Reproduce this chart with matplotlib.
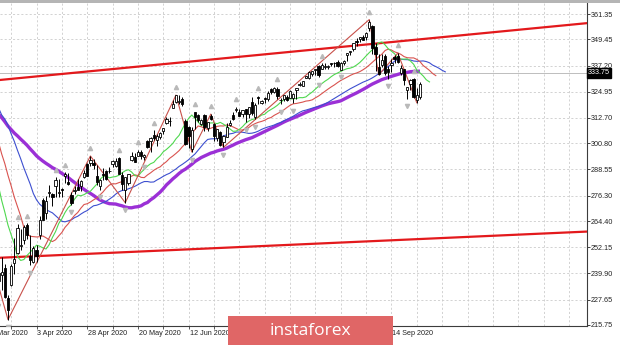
import numpy as np
import pandas as pd
import matplotlib.pyplot as plt
from matplotlib.patches import Rectangle
from matplotlib.transforms import offset_copy

plt.rcParams['font.family'] = 'Liberation Sans'

# trading calendar (daily bars, no gaps)
holidays = ['2020-01-20', '2020-02-17', '2020-04-10', '2020-05-25', '2020-07-03', '2020-09-07']
dates = pd.bdate_range('2020-01-02', '2020-09-25')
dates = dates[~dates.isin(pd.to_datetime(holidays))]

# closes before the visible window (needed to warm up the averages)
history_close = [
    324.87, 322.41, 323.64, 322.73, 324.45, 326.65, 325.71, 327.95, 327.45, 328.19, 330.92,
    331.95, 331.30, 331.34, 331.72, 328.77, 323.50, 326.89, 326.62, 327.68, 321.73,
    324.12, 329.06, 332.86, 333.98, 332.20, 334.68, 335.26, 337.42, 337.06, 337.60,
    336.73, 338.34, 336.95, 333.48, 322.42, 312.65, 311.50, 297.51, 296.26,
    309.09, 300.24, 312.86, 302.46, 297.46, 274.23, 288.42, 274.36,
]

# visible bars, 12 Mar 2020 .. 25 Sep 2020
open_ = [
    255.94, 263.09, 241.18, 245.04, 236.25, 239.25, 242.53, 228.19, 234.42, 244.87, 249.52, 252.75, 255.70, 262.40,
    247.98, 245.19, 250.76, 257.84, 274.21, 267.96, 277.58, 277.14, 280.98, 277.57, 279.15, 285.38, 282.61, 276.73,
    278.35, 280.49, 280.73, 285.12, 291.02, 291.53, 291.71,
    285.31, 280.74, 286.64, 288.04, 287.75, 291.09, 290.34, 293.79, 286.06, 278.95, 282.37, 293.05, 294.35, 295.06,
    296.79, 294.57, 301.93, 302.12, 304.65, 302.46,
    303.62, 306.55, 310.24, 311.11, 317.23, 320.22, 320.30, 321.42, 311.46, 308.24, 298.02, 315.48, 314.07, 310.01,
    314.17, 307.99, 313.49, 309.84, 303.47, 306.16, 301.41, 303.99,
    309.57, 314.24, 316.37, 315.38, 314.61, 316.84, 314.31, 320.13, 313.30, 322.41, 319.79, 321.88, 321.43, 326.45,
    324.62, 326.47, 320.95, 321.63, 322.43, 322.12, 321.90, 325.90,
    328.32, 327.86, 331.47, 331.48, 333.28, 335.06, 336.85, 335.44, 336.76, 336.41, 337.94, 338.34, 339.05, 335.36,
    338.51, 342.12, 343.53, 344.76, 348.51, 349.44, 350.35,
    350.35, 354.67, 355.87, 346.13, 336.71, 337.55, 341.82, 335.82, 337.49, 341.12, 341.51, 333.56, 335.37, 325.70,
    328.57, 330.90, 321.22, 322.58,
]
high = [
    266.66, 269.98, 256.90, 256.17, 248.37, 247.38, 244.47, 229.68, 244.10, 256.35, 262.80, 260.81, 262.43, 263.33,
    257.66, 252.68, 253.32, 267.00, 275.03, 276.00, 281.20, 277.51, 284.90, 283.94, 280.03, 287.30, 286.79, 278.04,
    281.00, 283.94, 283.70, 288.27, 291.40, 294.88, 293.32,
    290.66, 283.90, 289.25, 288.46, 289.78, 292.95, 294.00, 294.24, 287.19, 285.11, 286.33, 296.75, 296.21, 297.87,
    297.67, 295.63, 302.19, 303.57, 306.84, 305.17,
    306.21, 308.13, 313.22, 313.00, 321.27, 323.41, 323.28, 322.39, 312.15, 309.08, 308.28, 315.64, 314.39, 312.30,
    314.38, 310.65, 314.50, 310.51, 307.64, 306.39, 304.61, 310.20,
    311.89, 315.70, 317.88, 317.10, 316.50, 317.10, 317.88, 322.71, 319.76, 323.04, 321.28, 322.57, 325.13, 326.93,
    327.20, 327.23, 321.99, 323.41, 323.64, 325.73, 324.41, 326.63,
    329.62, 330.06, 332.39, 334.46, 334.88, 335.77, 337.54, 338.28, 338.25, 337.42, 338.34, 339.10, 339.61, 338.80,
    339.72, 343.00, 344.21, 347.86, 349.90, 350.72, 351.30,
    352.71, 358.75, 356.38, 347.83, 342.64, 342.46, 342.53, 336.97, 340.38, 342.02, 343.06, 337.70, 335.49, 327.13,
    330.90, 331.20, 326.80, 329.58,
]
low = [
    247.68, 248.77, 237.36, 237.07, 228.02, 232.22, 228.50, 218.26, 233.80, 239.75, 249.05, 251.05, 253.53, 256.22,
    243.90, 244.59, 245.22, 255.82, 264.89, 265.25, 275.47, 271.41, 275.51, 275.46, 275.76, 282.40, 281.35, 272.02,
    276.91, 278.75, 278.50, 284.62, 285.40, 290.41, 288.59,
    281.52, 279.13, 283.71, 283.78, 286.76, 289.86, 289.88, 286.52, 278.97, 272.99, 281.34, 292.70, 291.95, 294.86,
    293.69, 293.22, 298.69, 296.87, 302.24, 299.55,
    303.06, 305.10, 309.94, 309.08, 317.16, 319.63, 319.36, 318.22, 300.01, 298.60, 296.74, 307.67, 310.86, 309.51,
    306.53, 306.46, 311.61, 302.10, 301.88, 299.42, 298.93, 303.82,
    309.07, 311.51, 315.56, 313.67, 313.09, 310.68, 312.76, 314.13, 312.00, 319.26, 319.09, 319.74, 320.62, 323.94,
    324.50, 321.48, 319.25, 320.77, 320.85, 322.08, 319.64, 321.33,
    327.73, 327.86, 331.18, 331.13, 332.30, 332.96, 331.83, 335.44, 335.83, 335.62, 336.85, 336.61, 336.62, 335.22,
    337.55, 339.45, 342.27, 344.17, 346.53, 348.15, 349.06,
    349.24, 353.43, 342.59, 334.87, 332.88, 336.61, 332.85, 331.00, 334.22, 338.47, 338.52, 332.99, 327.97, 321.73,
    325.86, 322.10, 319.80, 321.64,
]
close = [
    248.11, 269.32, 239.85, 252.80, 240.00, 240.51, 228.80, 222.95, 243.15, 246.79, 261.20, 253.42, 261.65, 257.75,
    246.15, 251.83, 248.19, 264.86, 265.13, 274.03, 278.20, 275.66, 283.79, 277.76, 279.10, 286.64, 281.59, 273.04,
    279.08, 279.08, 282.97, 287.05, 285.73, 293.21, 290.48,
    282.79, 283.57, 286.19, 284.25, 287.68, 292.44, 292.50, 286.67, 281.60, 284.97, 286.28, 295.00, 291.97, 296.93,
    294.88, 295.44, 299.08, 303.53, 303.24, 304.32,
    305.55, 308.08, 312.18, 311.36, 319.34, 323.20, 320.79, 319.00, 300.61, 304.21, 307.05, 312.96, 311.66, 311.78,
    308.64, 310.62, 312.05, 304.09, 307.35, 300.05, 304.46, 308.36,
    310.52, 312.23, 317.05, 313.78, 316.18, 314.38, 317.59, 314.84, 318.92, 321.85, 320.79, 321.72, 324.32, 324.80,
    326.64, 322.96, 320.88, 323.22, 321.17, 325.12, 323.96, 326.52,
    328.79, 330.06, 332.11, 334.33, 334.57, 335.57, 332.80, 337.44, 336.83, 336.84, 337.91, 338.64, 337.23, 338.28,
    339.48, 342.92, 344.12, 347.57, 348.33, 350.58, 349.31,
    352.60, 357.70, 345.39, 342.57, 333.21, 339.79, 333.89, 334.06, 338.46, 340.17, 338.82, 335.84, 330.65, 326.97,
    330.30, 322.64, 323.50, 328.73,
]

# zigzag swing points
zz_dates = ['2020-02-19', '2020-03-23', '2020-04-29', '2020-05-14', '2020-06-08', '2020-06-15',
            '2020-06-23', '2020-06-29', '2020-09-02', '2020-09-08', '2020-09-16', '2020-09-24']
zz_prices = [339.08, 218.26, 294.88, 272.99, 323.41, 296.74, 314.50, 298.93, 358.75, 332.88, 343.06, 319.80]

# hand drawn channel (two anchor points each)
channel_dates = ['2020-03-18', '2020-09-25']
channel_upper = [330.40, 349.50]
channel_lower = [247.20, 256.00]

last_price = 333.75
price_ticks = [361.35, 349.45, 337.20, 324.95, 312.70, 300.80, 288.55,
               276.30, 264.40, 252.15, 239.90, 227.65, 215.75]

open_, high, low, close = map(np.array, (open_, high, low, close))
n_hist = len(history_close)
idx = np.arange(n_hist, n_hist + len(close))


def smma(x, n):
    out = np.full(len(x), np.nan)
    out[n - 1] = x[:n].mean()
    for i in range(n, len(x)):
        out[i] = (out[i - 1] * (n - 1) + x[i]) / n
    return out


all_close = np.r_[history_close, close]
median = np.r_[history_close, (high + low) / 2]
sma50 = pd.Series(all_close).rolling(50).mean().values
jaw, teeth, lips = smma(median, 13), smma(median, 8), smma(median, 5)
full_idx = np.arange(len(all_close))

fig = plt.figure(figsize=(6.2, 3.45), dpi=100)
ax = fig.add_axes([0, 19 / 345, 587 / 620, 323 / 345])
ax.set_facecolor('white')

x_per_px = 1 / 3.169
mar23 = dates.get_loc(pd.Timestamp('2020-03-23'))
ax.set_xlim(mar23 - 8 * x_per_px, mar23 + 579 * x_per_px)
ax.set_ylim(215.28, 366.50)

# grid
grid_kw = dict(color='#cbcbcb', lw=0.6, ls=(0, (2.5, 2.5)), zorder=0)
label_pos = np.arange(n_hist, len(dates), 16)
for j in np.arange(label_pos[0] + 8, mar23 + 600 * x_per_px, 8):
    ax.axvline(j, **grid_kw)
for p in price_ticks[:-1]:
    ax.axhline(p, **grid_kw)

# channel lines
ch_x = dates.get_indexer(pd.to_datetime(channel_dates))
ax.axline((ch_x[0], channel_upper[0]), (ch_x[1], channel_upper[1]), color='#e3191c', lw=1.6, zorder=3)
ax.axline((ch_x[0], channel_lower[0]), (ch_x[1], channel_lower[1]), color='#e3191c', lw=1.6, zorder=3)

# price line
ax.axhline(last_price, color='#bdbdbd', lw=0.7, zorder=1)

# moving averages
ax.plot(full_idx, sma50, color='#9b30d6', lw=2.4, zorder=4, solid_capstyle='butt')
ax.plot(full_idx + 8, jaw, color='#3d4fd0', lw=0.8, zorder=4)
ax.plot(full_idx + 5, teeth, color='#d9534f', lw=0.8, zorder=4)
ax.plot(full_idx + 3, lips, color='#4fd84f', lw=0.8, zorder=4)

# zigzag
zz_x = dates.get_indexer(pd.to_datetime(zz_dates))
ax.plot(zz_x, zz_prices, color='#c8504a', lw=0.8, zorder=4)

# candles
up = close >= open_
ax.vlines(idx, low, high, color='black', lw=0.7, zorder=5)
ax.bar(idx, np.maximum(np.abs(close - open_), 0.3), bottom=np.minimum(open_, close),
       width=0.72, color=np.where(up, 'white', 'black'), edgecolor='black', linewidth=0.6, zorder=6)

# fractals
up_fr = [k for k in range(2, len(high) - 2)
         if high[k] > max(high[k - 2:k]) and high[k] > max(high[k + 1:k + 3])]
dn_fr = [k for k in range(2, len(low) - 2)
         if low[k] < min(low[k - 2:k]) and low[k] < min(low[k + 1:k + 3])]
ax.plot(idx[up_fr], high[up_fr], ls='none', marker='^', ms=3.0, color='#b9b9b9',
        transform=offset_copy(ax.transData, fig=fig, y=5.5, units='points'), zorder=7)
ax.plot(idx[dn_fr], low[dn_fr], ls='none', marker='v', ms=3.0, color='#b9b9b9',
        transform=offset_copy(ax.transData, fig=fig, y=-5.5, units='points'), zorder=7)

# axes frame
for side in ('left', 'top'):
    ax.spines[side].set_visible(False)
for side in ('right', 'bottom'):
    ax.spines[side].set_color('#3c3c3c')
    ax.spines[side].set_linewidth(0.8)

ax.yaxis.tick_right()
ax.set_yticks(price_ticks)
ax.set_yticklabels([f'{p:.2f}' for p in price_ticks])
ax.tick_params(axis='y', length=2.2, pad=0.8, labelsize=5.25, colors='#222222', width=0.6)

ax.set_xticks(np.arange(label_pos[0] + 8, label_pos[-1] + 1, 8))
ax.set_xticklabels([])
ax.tick_params(axis='x', length=2.2, width=0.6, colors='#3c3c3c')

# watermark band along the bottom (pixels 228..393); date labels fully under it are hidden
logo_x0, logo_x1 = 228, 393
for j in label_pos:
    px = ax.transData.transform((j, 0))[0]
    if logo_x0 < px < logo_x1 - 10:
        continue
    d = dates[j]
    ax.text(j + 0.3, -0.013, f'{d.day} {d:%b %Y}', transform=ax.get_xaxis_transform(),
            ha='left', va='top', fontsize=5.25, color='#222222', clip_on=False)

ax.text(1.002, last_price, f'{last_price:.2f}', transform=ax.get_yaxis_transform(),
        ha='left', va='center', fontsize=5.25, color='white', clip_on=False, zorder=20,
        bbox=dict(boxstyle='square,pad=0.18', fc='black', ec='black'))

# window border and watermark
fig.add_artist(Rectangle((0, 1 - 2.5 / 345), 1, 2.5 / 345, transform=fig.transFigure,
                         fc='#b5b5b5', ec='none', zorder=30))
fig.add_artist(Rectangle((logo_x0 / 620, 0), (logo_x1 - logo_x0) / 620, 29 / 345,
                         transform=fig.transFigure, fc='#e06666', ec='none', zorder=30))
fig.text((logo_x0 + logo_x1) / 2 / 620, 14 / 345, 'instaforex', family='Open Sans', fontsize=12.5,
         color='white', ha='center', va='center', zorder=31)

fig.savefig('out.png', dpi=100)
